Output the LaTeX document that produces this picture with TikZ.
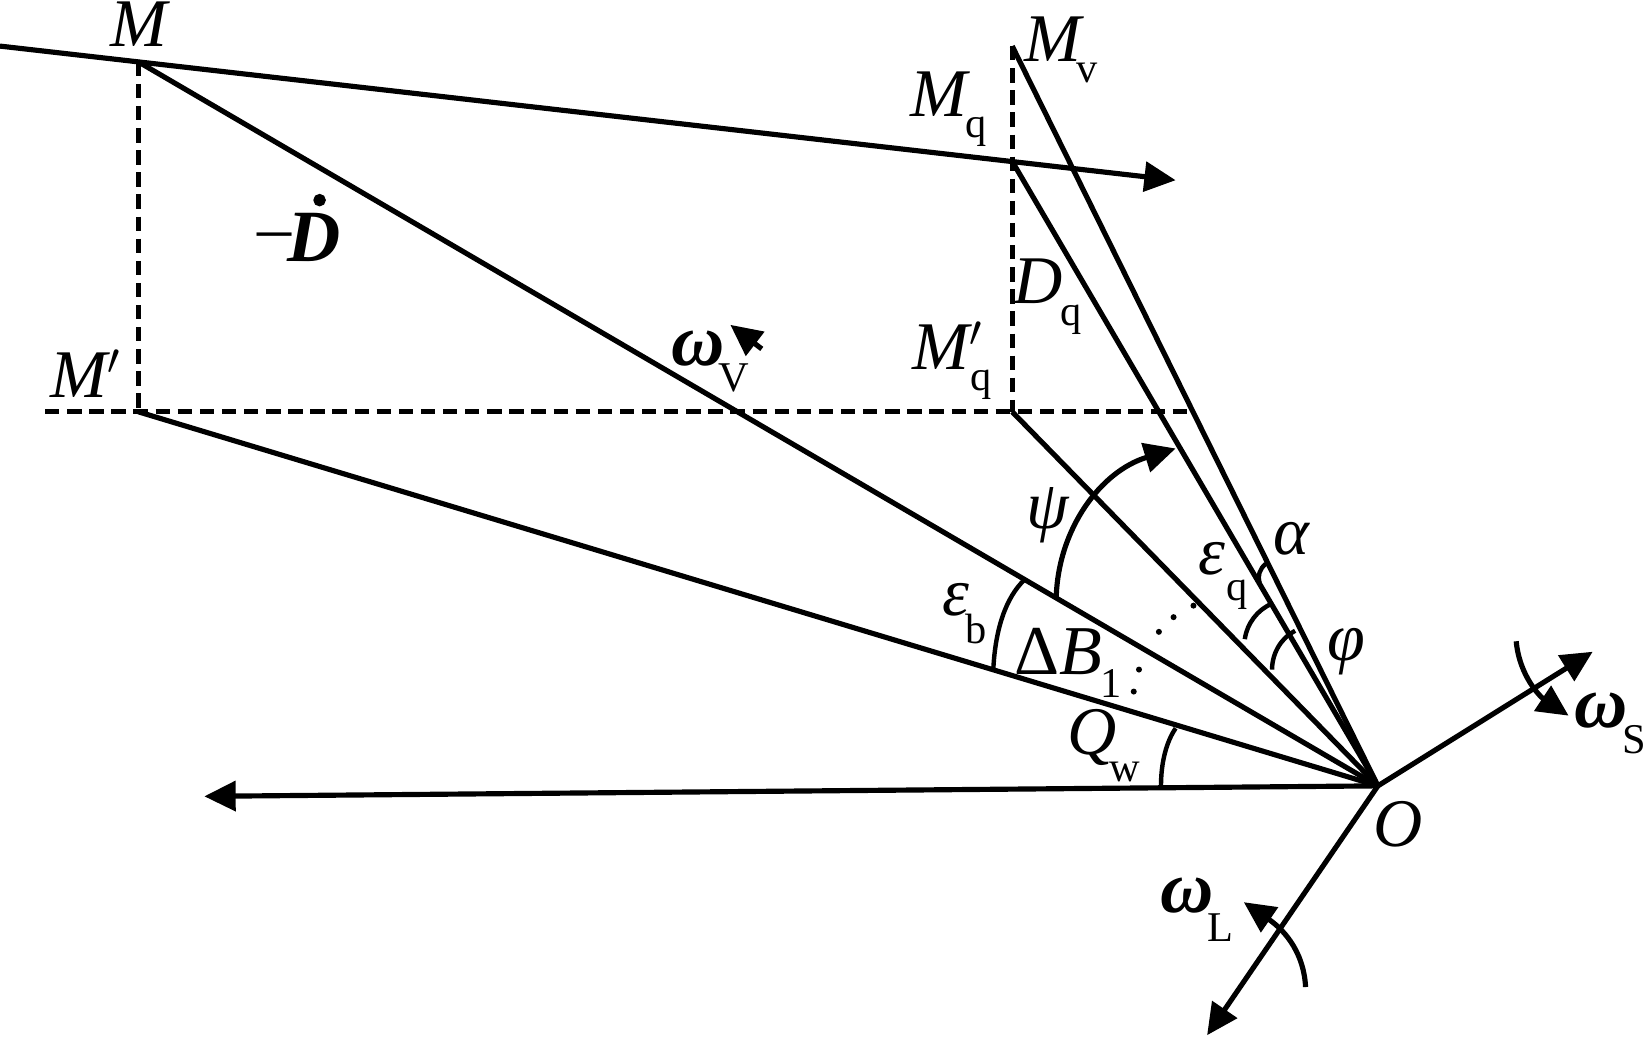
\documentclass[tikz,border=0pt]{standalone}
\usepackage{amsmath}
\usepackage{fontspec}
\setmainfont{Liberation Serif}
\usetikzlibrary{arrows.meta}
\tikzset{
    line/.style={black, line width=1.4pt},
    dash line/.style={line, dash pattern=on 3.9pt off 2.1pt},
    arrow line/.style={line, -{Triangle[length=8.5pt,width=8pt]}},
    thin arc/.style={black, line width=1.2pt},
    lab/.style={inner sep=0pt, font=\fontsize{18.5}{22}\selectfont\itshape},
    boldlab/.style={inner sep=0pt, font=\fontsize{20}{22}\selectfont\bfseries\itshape},
    greek/.style={inner sep=0pt, font=\fontsize{19}{22}\selectfont},
    sub/.style={inner sep=0pt, font=\fontsize{11.5}{14}\selectfont}
}
\begin{document}
\begin{tikzpicture}[x=0.01cm, y=-0.01cm]
        \useasboundingbox (0,0) rectangle (1568,989.7);

        % main points
        \coordinate (O) at (1315,750);
        \coordinate (M) at (132,59);
        \coordinate (Mv) at (966,44);
        \coordinate (Mq) at (966,154);
        \coordinate (Mqp) at (966,393);
        \coordinate (Mp) at (132,393);
        \coordinate (topL) at (0,44);
        \coordinate (topR) at (1122,172);
        \coordinate (dashL) at (43,393);
        \coordinate (dashR) at (1140,393);
        \coordinate (windEnd) at (195,760);
        \coordinate (axisS) at (1520,622);
        \coordinate (axisL) at (1152,988);

        \draw[arrow line] (topL) -- (topR);
        \draw[dash line] (dashL) -- (dashR);
        \draw[dash line] (M) -- (Mp);
        \draw[dash line] (Mv) -- (Mqp);

        \draw[line] (M) -- (O);
        \draw[line] (Mp) -- (O);
        \draw[line] (Mv) -- (O);
        \draw[line] (Mq) -- (O);
        \draw[line] (Mqp) -- (O);

        \draw[arrow line] (O) -- (windEnd);
        \draw[arrow line] (O) -- (axisS);
        \draw[arrow line] (O) -- (axisL);

        % angle arcs
        \coordinate (psiA) at (1008,570);
        \coordinate (psiB) at (1122,428);
        \draw[arrow line] (psiA) .. controls (1010,505) and (1050,450) .. (psiB);
        \coordinate (ebA) at (948,638);
        \coordinate (ebB) at (978,553);
        \draw[thin arc] (ebA) .. controls (950,600) and (960,570) .. (ebB);
        \coordinate (qwA) at (1108,750);
        \coordinate (qwB) at (1122,695);
        \draw[thin arc] (qwA) .. controls (1108,728) and (1113,708) .. (qwB);
        \coordinate (eqA) at (1188,610);
        \coordinate (eqB) at (1214,576);
        \draw[thin arc] (eqA) .. controls (1190,595) and (1200,582) .. (eqB);
        \coordinate (phiA) at (1214,639);
        \coordinate (phiB) at (1236,602);
        \draw[thin arc] (phiA) .. controls (1214,622) and (1224,608) .. (phiB);
        \coordinate (alA) at (1202,556);
        \coordinate (alB) at (1208,538);
        \draw[thin arc] (alA) .. controls (1200,550) and (1202,543) .. (alB);

        % rotation arrows
        \coordinate (rotSa) at (1447,612);
        \coordinate (rotSb) at (1497,683);
        \draw[arrow line] (rotSa) .. controls (1450,645) and (1470,665) .. (rotSb);
        \coordinate (rotLa) at (1246,942);
        \coordinate (rotLb) at (1187,861);
        \draw[arrow line] (rotLa) .. controls (1244,905) and (1222,885) .. (rotLb);
        \coordinate (rotVa) at (727,333);
        \coordinate (rotVb) at (697,310);
        \draw[arrow line] (rotVa) -- (rotVb);

        % small dots
        \foreach \dx/\dy in {1106/603, 1120/589, 1139/578, 1087/639, 1082/660}
            \filldraw[black] (\dx,\dy) circle (0.6pt);
        \filldraw[black] (305,191) circle (1.5pt);

        % labels
        \node[lab] (lM) at (133,23) {M};
        \node[lab] (lMv) at (1005,37) {M};
        \node[sub] (sMv) at (1037,70) {v};
        \node[lab] (lMq) at (896,90) {M};
        \node[sub] (sMq) at (932,126) {q};
        \node[lab] (lD) at (991,268) {D};
        \node[sub] (sD) at (1022,305) {q};
        \node[lab] (lMqp) at (905,330) {M$'$};
        \node[sub] (sMqp) at (936,367) {q};
        \node[lab] (lMp) at (82,357) {M$'$};
        \node[lab] (lMinus) at (262,231) {–};
        \node[boldlab] (lDot) at (300,227) {D};
        \node[boldlab] (lwV) at (666,333) {ω};
        \node[sub] (swV) at (700,361) {V};
        \node[lab] (lpsi) at (1000,492) {ψ};
        \node[lab] (leq) at (1157,533) {ε};
        \node[sub] (seq) at (1181,568) {q};
        \node[lab] (lal) at (1232,514) {α};
        \node[lab] (lphi) at (1285,622) {φ};
        \node[lab] (leb) at (912,572) {ε};
        \node[sub] (seb) at (932,600) {b};
        \node[greek] (ldB) at (1010,622) {Δ\textit{B}};
        \node[sub] (sdB) at (1060,652) {1};
        \node[lab] (lQ) at (1042,704) {Q};
        \node[sub] (sQ) at (1073,737) {w};
        \node[lab] (lO) at (1334,787) {O};
        \node[boldlab] (lwS) at (1528,678) {ω};
        \node[sub] (swS) at (1560,706) {S};
        \node[boldlab] (lwL) at (1133,855) {ω};
        \node[sub] (swL) at (1165,885) {L};
    \end{tikzpicture}
\end{document}
